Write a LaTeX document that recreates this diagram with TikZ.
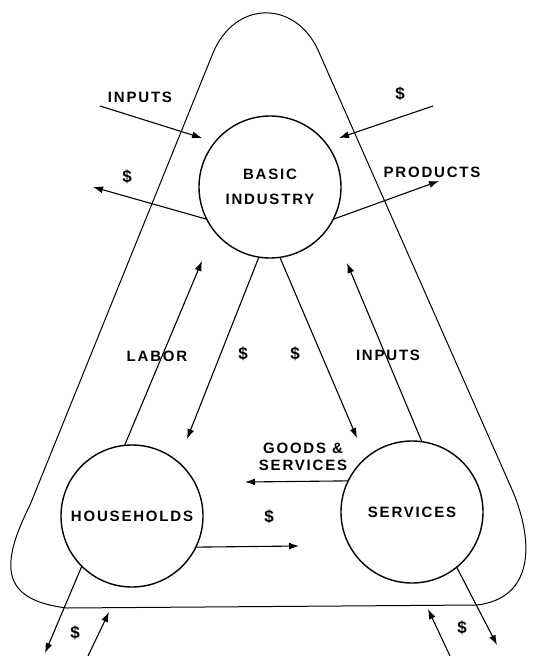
\documentclass[tikz,border=0pt]{standalone}
\usepackage{fontspec}
\newfontfamily\lblfont{Liberation Sans}[LetterSpace=12]
\usetikzlibrary{arrows.meta}
\tikzset{
  circ/.style={circle, draw, line width=1.4pt, minimum size=142pt, inner sep=0pt, outer sep=0pt, align=center, font=\lblfont\bfseries\fontsize{15}{25}\selectfont},
  lbl/.style={inner sep=0pt, align=center, font=\lblfont\bfseries\fontsize{15}{17}\selectfont},
  dollar/.style={inner sep=0pt, font=\lblfont\bfseries\fontsize{17}{17}\selectfont},
  flow/.style={line width=1.1pt, -{Latex[length=10pt,width=7pt]}},
  boundary/.style={line width=1pt}
}
\begin{document}
\begin{tikzpicture}[x=1pt,y=-1pt]
\useasboundingbox (0,0) rectangle (548,656);
% outer boundary
\draw[boundary] (213,53) -- (30,505) .. controls (0,565) and (0,600) .. (67,608)
  -- (477,605) .. controls (535,598) and (535,540) .. (510,485)
  -- (318,50) .. controls (295,0) and (235,0) .. (213,53) -- cycle;
% circles
\node[circ] (bi) at (270,187) {BASIC\\INDUSTRY};
\node[circ] (hh) at (132,516) {HOUSEHOLDS};
\node[circ] (sv) at (412,512) {SERVICES};
% free ends
\coordinate (inA) at (100,106);
\coordinate (inAt) at (202,138);
\coordinate (dA) at (433,106);
\coordinate (dAt) at (339,138);
\coordinate (dBt) at (93,187);
\coordinate (prt) at (439,181);
\coordinate (labt) at (202,261);
\coordinate (dCt) at (187,439);
\coordinate (dDt) at (357,438);
\coordinate (in2t) at (347,263);
\coordinate (gst) at (245,482);
\coordinate (dEt) at (299,546);
\coordinate (dFt) at (45,653);
\coordinate (upA) at (88,656);
\coordinate (upAt) at (109,612);
\coordinate (upB) at (450,656);
\coordinate (upBt) at (428,609);
\coordinate (dGt) at (497,645);
% arrows
\draw[flow] (inA) -- (inAt);
\draw[flow] (dA) -- (dAt);
\draw[flow] (bi.207) -- (dBt);
\draw[flow] (bi.333) -- (prt);
\draw[flow] (hh.96) -- (labt);
\draw[flow] (bi.261) -- (dCt);
\draw[flow] (bi.278) -- (dDt);
\draw[flow] (sv.82) -- (in2t);
\draw[flow] (sv.154) -- (gst);
\draw[flow] (hh.334) -- (dEt);
\draw[flow] (hh.225) -- (dFt);
\draw[flow] (upA) -- (upAt);
\draw[flow] (upB) -- (upBt);
\draw[flow] (sv.309) -- (dGt);
% labels
\node[lbl] (l1) at (140,97) {INPUTS};
\node[dollar] (l2) at (400,94) {\$};
\node[dollar] (l3) at (127,177) {\$};
\node[lbl] (l4) at (432,172) {PRODUCTS};
\node[lbl] (l5) at (157,356) {LABOR};
\node[dollar] (l6) at (243,354) {\$};
\node[dollar] (l7) at (295,354) {\$};
\node[lbl] (l8) at (388,355) {INPUTS};
\node[lbl] (l9) at (303,457) {GOODS \&\\SERVICES};
\node[dollar] (l10) at (269,517) {\$};
\node[dollar] (l11) at (75,633) {\$};
\node[dollar] (l12) at (462,628) {\$};
\end{tikzpicture}
\end{document}
